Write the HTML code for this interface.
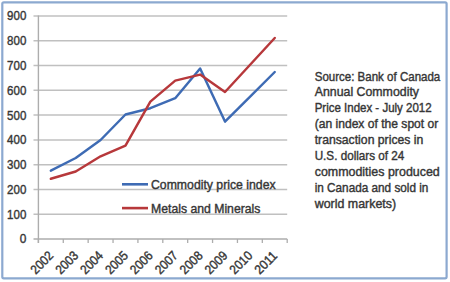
<!DOCTYPE html>
<html><head><meta charset="utf-8"><style>
html,body{margin:0;padding:0;background:#fff;width:450px;height:282px;overflow:hidden}
svg{display:block}
text{font-family:"Liberation Sans", sans-serif;font-size:12.4px;fill:#363636;stroke:#363636;stroke-width:0.4px}
</style></head><body>
<svg width="450" height="282" viewBox="0 0 450 282">
<rect x="2.3" y="2.3" width="444.3" height="276.0" rx="1.5" ry="1.5" fill="#fff" stroke="#8ca9d0" stroke-width="2.2"/>
<line x1="33.5" y1="214.22" x2="287.20" y2="214.22" stroke="#c0c0c0" stroke-width="1.5"/>
<line x1="33.5" y1="189.44" x2="287.20" y2="189.44" stroke="#c0c0c0" stroke-width="1.5"/>
<line x1="33.5" y1="164.66" x2="287.20" y2="164.66" stroke="#c0c0c0" stroke-width="1.5"/>
<line x1="33.5" y1="139.88" x2="287.20" y2="139.88" stroke="#c0c0c0" stroke-width="1.5"/>
<line x1="33.5" y1="115.10" x2="287.20" y2="115.10" stroke="#c0c0c0" stroke-width="1.5"/>
<line x1="33.5" y1="90.32" x2="287.20" y2="90.32" stroke="#c0c0c0" stroke-width="1.5"/>
<line x1="33.5" y1="65.54" x2="287.20" y2="65.54" stroke="#c0c0c0" stroke-width="1.5"/>
<line x1="33.5" y1="40.76" x2="287.20" y2="40.76" stroke="#c0c0c0" stroke-width="1.5"/>
<line x1="33.5" y1="15.98" x2="287.20" y2="15.98" stroke="#c0c0c0" stroke-width="1.5"/>
<line x1="38.4" y1="15.5" x2="38.4" y2="243" stroke="#adadad" stroke-width="1.4"/>
<line x1="33.5" y1="239.00" x2="287.20" y2="239.00" stroke="#adadad" stroke-width="1.4"/>
<line x1="38.40" y1="239.0" x2="38.40" y2="243" stroke="#adadad" stroke-width="1.3"/>
<line x1="63.28" y1="239.0" x2="63.28" y2="243" stroke="#adadad" stroke-width="1.3"/>
<line x1="88.16" y1="239.0" x2="88.16" y2="243" stroke="#adadad" stroke-width="1.3"/>
<line x1="113.04" y1="239.0" x2="113.04" y2="243" stroke="#adadad" stroke-width="1.3"/>
<line x1="137.92" y1="239.0" x2="137.92" y2="243" stroke="#adadad" stroke-width="1.3"/>
<line x1="162.80" y1="239.0" x2="162.80" y2="243" stroke="#adadad" stroke-width="1.3"/>
<line x1="187.68" y1="239.0" x2="187.68" y2="243" stroke="#adadad" stroke-width="1.3"/>
<line x1="212.56" y1="239.0" x2="212.56" y2="243" stroke="#adadad" stroke-width="1.3"/>
<line x1="237.44" y1="239.0" x2="237.44" y2="243" stroke="#adadad" stroke-width="1.3"/>
<line x1="262.32" y1="239.0" x2="262.32" y2="243" stroke="#adadad" stroke-width="1.3"/>
<line x1="287.20" y1="239.0" x2="287.20" y2="243" stroke="#adadad" stroke-width="1.3"/>
<text x="26.3" y="243.45" style="font-size:12.9px" text-anchor="end" textLength="6.6" lengthAdjust="spacingAndGlyphs">0</text>
<text x="26.3" y="218.67" style="font-size:12.9px" text-anchor="end" textLength="19.2" lengthAdjust="spacingAndGlyphs">100</text>
<text x="26.3" y="193.89" style="font-size:12.9px" text-anchor="end" textLength="19.2" lengthAdjust="spacingAndGlyphs">200</text>
<text x="26.3" y="169.11" style="font-size:12.9px" text-anchor="end" textLength="19.2" lengthAdjust="spacingAndGlyphs">300</text>
<text x="26.3" y="144.33" style="font-size:12.9px" text-anchor="end" textLength="19.2" lengthAdjust="spacingAndGlyphs">400</text>
<text x="26.3" y="119.55" style="font-size:12.9px" text-anchor="end" textLength="19.2" lengthAdjust="spacingAndGlyphs">500</text>
<text x="26.3" y="94.77" style="font-size:12.9px" text-anchor="end" textLength="19.2" lengthAdjust="spacingAndGlyphs">600</text>
<text x="26.3" y="69.99" style="font-size:12.9px" text-anchor="end" textLength="19.2" lengthAdjust="spacingAndGlyphs">700</text>
<text x="26.3" y="45.21" style="font-size:12.9px" text-anchor="end" textLength="19.2" lengthAdjust="spacingAndGlyphs">800</text>
<text x="26.3" y="20.43" style="font-size:12.9px" text-anchor="end" textLength="19.2" lengthAdjust="spacingAndGlyphs">900</text>
<text transform="translate(54.20,256.50) rotate(-45)" x="0" y="0" text-anchor="end" style="font-size:13px" textLength="26" lengthAdjust="spacingAndGlyphs">2002</text>
<text transform="translate(79.08,256.50) rotate(-45)" x="0" y="0" text-anchor="end" style="font-size:13px" textLength="26" lengthAdjust="spacingAndGlyphs">2003</text>
<text transform="translate(103.96,256.50) rotate(-45)" x="0" y="0" text-anchor="end" style="font-size:13px" textLength="26" lengthAdjust="spacingAndGlyphs">2004</text>
<text transform="translate(128.84,256.50) rotate(-45)" x="0" y="0" text-anchor="end" style="font-size:13px" textLength="26" lengthAdjust="spacingAndGlyphs">2005</text>
<text transform="translate(153.72,256.50) rotate(-45)" x="0" y="0" text-anchor="end" style="font-size:13px" textLength="26" lengthAdjust="spacingAndGlyphs">2006</text>
<text transform="translate(178.60,256.50) rotate(-45)" x="0" y="0" text-anchor="end" style="font-size:13px" textLength="26" lengthAdjust="spacingAndGlyphs">2007</text>
<text transform="translate(203.48,256.50) rotate(-45)" x="0" y="0" text-anchor="end" style="font-size:13px" textLength="26" lengthAdjust="spacingAndGlyphs">2008</text>
<text transform="translate(228.36,256.50) rotate(-45)" x="0" y="0" text-anchor="end" style="font-size:13px" textLength="26" lengthAdjust="spacingAndGlyphs">2009</text>
<text transform="translate(253.24,256.50) rotate(-45)" x="0" y="0" text-anchor="end" style="font-size:13px" textLength="26" lengthAdjust="spacingAndGlyphs">2010</text>
<text transform="translate(278.12,256.50) rotate(-45)" x="0" y="0" text-anchor="end" style="font-size:13px" textLength="26" lengthAdjust="spacingAndGlyphs">2011</text>
<polyline points="50.84,170.60 75.72,158.00 100.60,140.00 125.48,114.50 150.36,108.20 175.24,98.20 200.12,68.50 225.00,121.60 249.88,96.80 274.76,72.00" fill="none" stroke="#3e6bb4" stroke-width="2.45" stroke-linejoin="round" stroke-linecap="round"/>
<polyline points="50.84,178.80 75.72,171.50 100.60,156.30 125.48,145.60 150.36,101.60 175.24,80.60 200.12,74.60 225.00,92.00 249.88,65.00 274.76,38.00" fill="none" stroke="#b7383b" stroke-width="2.45" stroke-linejoin="round" stroke-linecap="round"/>
<line x1="122" y1="184.3" x2="148" y2="184.3" stroke="#3e6bb4" stroke-width="2.6"/>
<line x1="122" y1="208.1" x2="148" y2="208.1" stroke="#b7383b" stroke-width="2.6"/>
<text x="151" y="188.9" textLength="124.6" lengthAdjust="spacingAndGlyphs" style="font-size:12.4px">Commodity price index</text>
<text x="151" y="212.8" textLength="109.4" lengthAdjust="spacingAndGlyphs" style="font-size:12.4px">Metals and Minerals</text>
<text x="314.7" y="80.50" textLength="125.6" lengthAdjust="spacingAndGlyphs" style="font-size:12.4px">Source: Bank of Canada</text>
<text x="314.7" y="96.38" textLength="104.3" lengthAdjust="spacingAndGlyphs" style="font-size:12.4px">Annual Commodity</text>
<text x="314.7" y="112.26" textLength="116.9" lengthAdjust="spacingAndGlyphs" style="font-size:12.4px">Price Index - July 2012</text>
<text x="314.7" y="128.14" textLength="123.6" lengthAdjust="spacingAndGlyphs" style="font-size:12.4px">(an index of the spot or</text>
<text x="314.7" y="144.02" textLength="108.6" lengthAdjust="spacingAndGlyphs" style="font-size:12.4px">transaction prices in</text>
<text x="314.7" y="159.90" textLength="89.6" lengthAdjust="spacingAndGlyphs" style="font-size:12.4px">U.S. dollars of 24</text>
<text x="314.7" y="175.78" textLength="125.1" lengthAdjust="spacingAndGlyphs" style="font-size:12.4px">commodities produced</text>
<text x="314.7" y="191.66" textLength="113.7" lengthAdjust="spacingAndGlyphs" style="font-size:12.4px">in Canada and sold in</text>
<text x="314.7" y="207.54" textLength="81.4" lengthAdjust="spacingAndGlyphs" style="font-size:12.4px">world markets)</text>
</svg>
</body></html>
